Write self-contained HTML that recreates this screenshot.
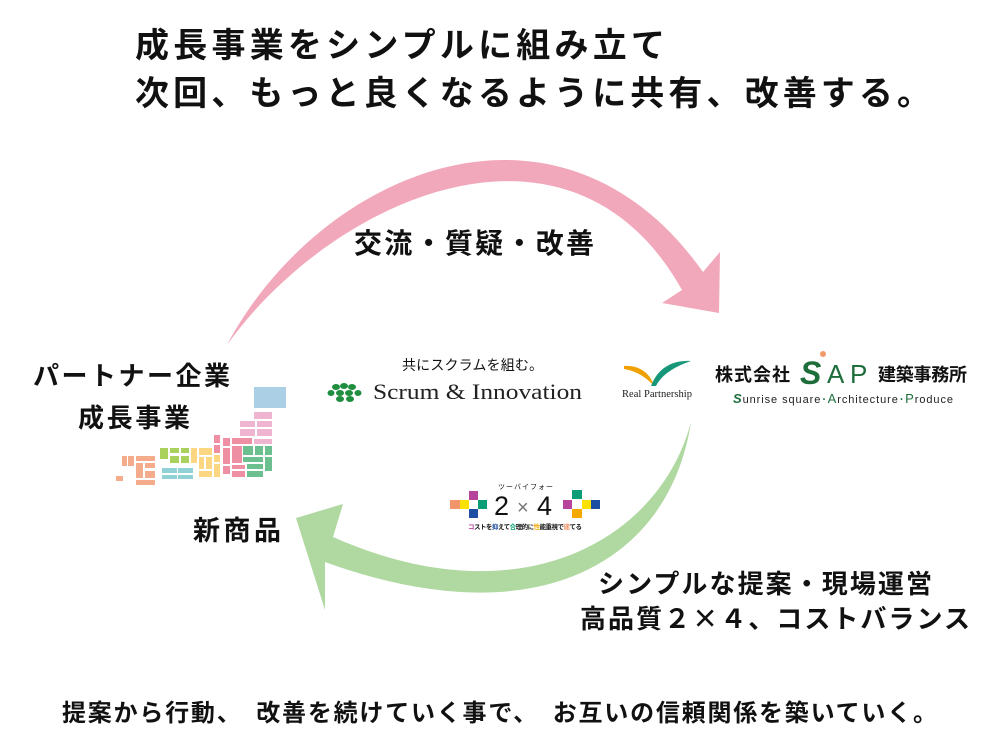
<!DOCTYPE html>
<html><head><meta charset="utf-8"><style>
html,body{margin:0;padding:0;background:#fff;}
svg{display:block;}
.jp{font-family:"Liberation Sans","Noto Sans CJK JP",sans-serif;font-weight:700;fill:#111;}
</style></head><body>
<svg width="1001" height="748" viewBox="0 0 1001 748" xmlns="http://www.w3.org/2000/svg">
<rect width="1001" height="748" fill="#fff"/>

<!-- Title -->
<text class="jp" x="135" y="57" font-size="34" textLength="530" lengthAdjust="spacing">成長事業をシンプルに組み立て</text>
<text class="jp" x="135" y="105" font-size="34" textLength="796" lengthAdjust="spacing">次回、もっと良くなるように共有、改善する。</text>

<!-- Pink arrow -->
<path d="M227,345 C 320,170 560,70 703,272 L720,252 L719,313 L662,303 L682,290 C 570,90 330,200 227,345 Z" fill="#f2a8bb"/>
<!-- Green arrow -->
<path d="M691,422 C 670,560 540,640 325,562 L325,610 L296,518 L343,504 L333,537 C 520,620 660,540 691,422 Z" fill="#b0d8a1"/>

<text class="jp" x="354" y="253" font-size="28" textLength="240" lengthAdjust="spacing">交流・質疑・改善</text>

<!-- Left labels -->
<text class="jp" x="33" y="385" font-size="26" textLength="197" lengthAdjust="spacing">パートナー企業</text>
<text class="jp" x="78" y="427" font-size="26" textLength="112" lengthAdjust="spacing">成長事業</text>
<text class="jp" x="193" y="540" font-size="27" textLength="88" lengthAdjust="spacing">新商品</text>

<!-- Japan map -->
<g>
<rect x="254" y="387" width="32" height="21" fill="#abcfe4"/>
<g fill="#efb5d0">
<rect x="254" y="412" width="18" height="7"/>
<rect x="240" y="421" width="15" height="6"/><rect x="257" y="421" width="15" height="6"/>
<rect x="240" y="429" width="15" height="7"/><rect x="257" y="429" width="15" height="7"/>
<rect x="254" y="439" width="18" height="5"/>
</g>
<g fill="#ee8fa4">
<rect x="214" y="435" width="6" height="8"/><rect x="214" y="445" width="6" height="8"/>
<rect x="223" y="438" width="7" height="8"/><rect x="223" y="448" width="7" height="16"/><rect x="223" y="466" width="7" height="8"/>
<rect x="232" y="438" width="20" height="6"/><rect x="232" y="446" width="10" height="17"/>
<rect x="232" y="465" width="13" height="4"/><rect x="232" y="471" width="13" height="6"/>
</g>
<g fill="#6cbf8e">
<rect x="243" y="446" width="10" height="9"/><rect x="255" y="446" width="8" height="9"/><rect x="265" y="446" width="7" height="9"/>
<rect x="243" y="457" width="20" height="5"/><rect x="265" y="457" width="7" height="14"/>
<rect x="247" y="464" width="16" height="5"/><rect x="247" y="471" width="16" height="6"/>
</g>
<g fill="#fcd680">
<rect x="199" y="448" width="13" height="7"/>
<rect x="199" y="457" width="5" height="12"/><rect x="206" y="457" width="6" height="12"/>
<rect x="199" y="471" width="13" height="6"/>
<rect x="214" y="455" width="6" height="7"/><rect x="214" y="464" width="6" height="13"/>
<rect x="191" y="448" width="6" height="15"/>
</g>
<g fill="#a9d15b">
<rect x="160" y="448" width="8" height="11"/>
<rect x="170" y="448" width="9" height="5"/><rect x="181" y="448" width="8" height="5"/>
<rect x="170" y="456" width="9" height="7"/><rect x="181" y="456" width="8" height="7"/>
</g>
<g fill="#8fd1d4">
<rect x="162" y="468" width="15" height="5"/><rect x="178" y="468" width="15" height="5"/>
<rect x="162" y="475" width="15" height="4"/><rect x="178" y="475" width="15" height="4"/>
</g>
<g fill="#f4ac8c">
<rect x="122" y="456" width="5" height="10"/><rect x="128" y="456" width="6" height="10"/>
<rect x="136" y="456" width="19" height="5"/>
<rect x="136" y="463" width="7" height="15"/><rect x="145" y="463" width="10" height="5"/>
<rect x="145" y="471" width="10" height="7"/>
<rect x="136" y="480" width="19" height="5"/>
<rect x="116" y="476" width="7" height="5"/>
</g>
</g>

<!-- Scrum & Innovation logo -->
<text class="jp" x="402" y="370" font-size="14" textLength="141" lengthAdjust="spacing" style="font-weight:400">共にスクラムを組む。</text>
<g fill="#1f8f3f">
<ellipse cx="336" cy="387" rx="4" ry="3"/><ellipse cx="344" cy="386" rx="4" ry="3"/><ellipse cx="352" cy="387" rx="4" ry="3"/>
<ellipse cx="331" cy="393" rx="3.5" ry="3"/><ellipse cx="340" cy="393" rx="4" ry="3"/><ellipse cx="349" cy="393" rx="4" ry="3"/><ellipse cx="358" cy="393" rx="3.5" ry="3"/>
<ellipse cx="340" cy="399" rx="4" ry="3"/><ellipse cx="350" cy="399" rx="4" ry="3"/>
</g>
<text x="373" y="399" font-family="Liberation Serif, serif" font-size="22" fill="#222" textLength="209" lengthAdjust="spacingAndGlyphs">Scrum  &amp;  Innovation</text>

<!-- Real Partnership logo -->
<path d="M624,366 C 638,365 650,372 654,386 C 646,377 636,371 624,369 Z" fill="#f0a000"/>
<path d="M651,386 C 658,368 672,360 691,361 C 676,366 662,374 656,386 Z" fill="#17977a"/>
<text x="622" y="397" font-family="Liberation Serif, serif" font-size="10" fill="#222" textLength="70" lengthAdjust="spacingAndGlyphs">Real Partnership</text>

<!-- SAP logo -->
<text class="jp" x="715" y="381" font-size="18" textLength="75" lengthAdjust="spacing">株式会社</text>
<circle cx="823" cy="354" r="3" fill="#f19a6a"/>
<text x="800" y="384" font-family="Liberation Sans, sans-serif" font-size="32" font-weight="700" font-style="italic" fill="#1e6e3c">S</text>
<text x="827" y="383" font-family="Liberation Sans, sans-serif" font-size="26" fill="#1e6e3c">A</text>
<text x="850" y="383" font-family="Liberation Sans, sans-serif" font-size="26" fill="#1e6e3c">P</text>
<text class="jp" x="878" y="381" font-size="18" textLength="89" lengthAdjust="spacing">建築事務所</text>
<text x="733" y="403" font-family="Liberation Sans, sans-serif" font-size="11" fill="#222" textLength="220" lengthAdjust="spacing"><tspan fill="#1e6e3c" font-weight="700" font-size="13" font-style="italic">S</tspan>unrise square<tspan fill="#1e6e3c">･</tspan><tspan fill="#1e6e3c" font-size="13">A</tspan>rchitecture<tspan fill="#1e6e3c">･</tspan><tspan fill="#1e6e3c" font-size="13">P</tspan>roduce</text>

<!-- 2x4 logo -->
<text class="jp" x="498" y="489" font-size="7" style="font-weight:400" textLength="55" lengthAdjust="spacing">ツーバイフォー</text>
<rect x="469" y="491" width="9" height="9" fill="#b5449a"/>
<rect x="450" y="500" width="10" height="9" fill="#f2956a"/>
<rect x="460" y="500" width="9" height="9" fill="#fbe100"/>
<rect x="478" y="500" width="9" height="9" fill="#0b9d76"/>
<rect x="469" y="509" width="9" height="9" fill="#1e4ea1"/>
<rect x="572" y="490" width="10" height="9" fill="#0b9d76"/>
<rect x="563" y="500" width="9" height="9" fill="#b5449a"/>
<rect x="582" y="500" width="9" height="9" fill="#fbe100"/>
<rect x="591" y="500" width="9" height="9" fill="#1e4ea1"/>
<rect x="572" y="509" width="10" height="9" fill="#f5a900"/>
<text x="494" y="515" font-family="Liberation Sans, sans-serif" font-size="27" fill="#111">2</text>
<text x="517" y="514" font-family="Liberation Sans, sans-serif" font-size="20" fill="#777">×</text>
<text x="537" y="515" font-family="Liberation Sans, sans-serif" font-size="27" fill="#111">4</text>
<text class="jp" x="468" y="529" font-size="6.5" textLength="114" lengthAdjust="spacing"><tspan fill="#b5449a">コ</tspan>ストを<tspan fill="#1e4ea1">抑</tspan>えて<tspan fill="#0b9d76">合</tspan>理的に<tspan fill="#f5a900">性</tspan>能重視で<tspan fill="#f2956a">建</tspan>てる</text>

<!-- Right labels -->
<text class="jp" x="598" y="593" font-size="26" textLength="334" lengthAdjust="spacing">シンプルな提案・現場運営</text>
<text class="jp" x="580" y="628" font-size="26" textLength="390" lengthAdjust="spacing">高品質２<tspan font-family="Noto Sans CJK JP, sans-serif">×</tspan>４、コストバランス</text>

<!-- Bottom -->
<text class="jp" x="62" y="721" font-size="24" textLength="875" lengthAdjust="spacing">提案から行動、　改善を続けていく事で、　お互いの信頼関係を築いていく。</text>
</svg>
</body></html>
